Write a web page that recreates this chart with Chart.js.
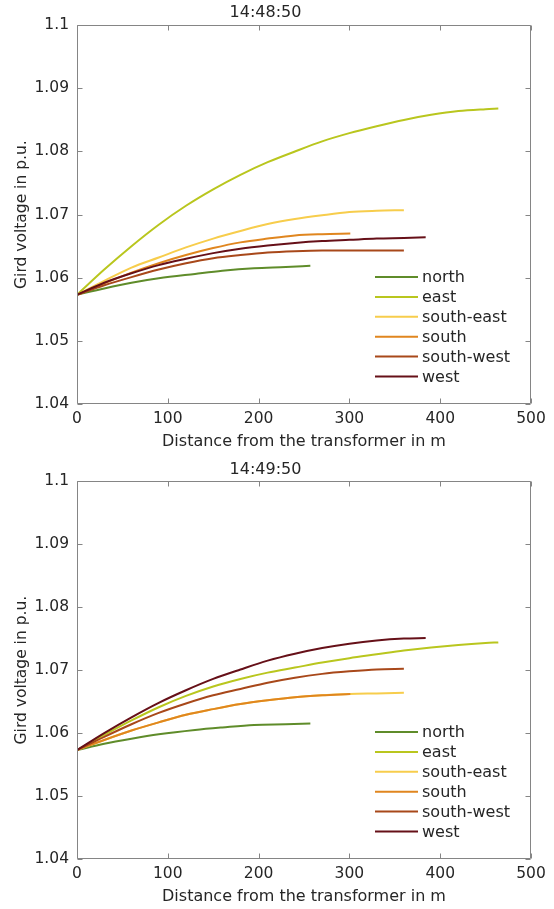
<!DOCTYPE html>
<html>
<head>
<meta charset="utf-8">
<title>Grid voltage</title>
<script src="https://cdn.jsdelivr.net/npm/chart.js@4.4.0/dist/chart.umd.min.js"></script>
<style>
  html, body { margin: 0; padding: 0; background: #fff; }
  .plot { position: relative; width: 554px; }
  #top { height: 454px; }
  #bottom { height: 455px; }
</style>
</head>
<body>
<div class="plot" id="top"><canvas id="chartTop"></canvas></div>
<div class="plot" id="bottom"><canvas id="chartBottom"></canvas></div>
<script>
const seriesNames  = ['north', 'east', 'south-east', 'south', 'south-west', 'west'];
const seriesColors = ['#5f8c2a', '#b9c61e', '#f7cd4c', '#e0861f', '#a8481a', '#661018'];

const xTicks = [0, 100, 200, 300, 400, 500];
const yTicks = [1.04, 1.05, 1.06, 1.07, 1.08, 1.09, 1.1];
const yTickLabels = ['1.04', '1.05', '1.06', '1.07', '1.08', '1.09', '1.1'];

// distance of the nodes along each feeder (m)
const northDist     = [0, 30, 60, 90, 130, 160, 195, 230, 257];
const eastDist      = [0, 30, 60, 90, 120, 150, 180, 210, 240, 270, 300, 330, 360, 390, 420, 450, 464];
const southEastDist = [0, 30, 60, 90, 120, 150, 180, 210, 240, 270, 300, 330, 360];
const southDist     = [0, 30, 60, 90, 120, 150, 180, 210, 240, 270, 301];
const southWestDist = [0, 30, 60, 90, 120, 150, 180, 210, 240, 270, 300, 330, 360];
const westDist      = [0, 30, 60, 90, 120, 150, 180, 210, 240, 270, 300, 330, 360, 384];

// 14:48:50
const north1     = [1.0573, 1.0583, 1.0592, 1.0599, 1.0606, 1.0611, 1.0615, 1.0617, 1.0619];
const east1      = [1.0573, 1.0613, 1.0650, 1.0684, 1.0714, 1.0740, 1.0763, 1.0783, 1.0800, 1.0816, 1.0829, 1.0840, 1.0850, 1.0858, 1.0864, 1.0867, 1.0868];
const southEast1 = [1.0573, 1.0595, 1.0616, 1.0632, 1.0648, 1.0662, 1.0674, 1.0685, 1.0693, 1.0699, 1.0704, 1.0706, 1.0707];
const south1     = [1.0573, 1.0591, 1.0608, 1.0623, 1.0636, 1.0647, 1.0656, 1.0662, 1.0667, 1.0669, 1.0670];
const southWest1 = [1.0573, 1.0588, 1.0601, 1.0613, 1.0623, 1.0631, 1.0636, 1.0640, 1.0642, 1.0643, 1.0643, 1.0643, 1.0643];
const west1      = [1.0573, 1.0592, 1.0607, 1.0620, 1.0630, 1.0639, 1.0646, 1.0651, 1.0655, 1.0658, 1.0660, 1.0662, 1.0663, 1.0664];

// 14:49:50
const north2     = [1.0573, 1.0583, 1.0591, 1.0598, 1.0605, 1.0609, 1.0613, 1.0614, 1.0615];
const east2      = [1.0573, 1.0597, 1.0620, 1.0641, 1.0659, 1.0674, 1.0686, 1.0696, 1.0704, 1.0712, 1.0719, 1.0725, 1.0731, 1.0736, 1.0740, 1.0743, 1.0744];
const southEast2 = [1.0573, 1.0589, 1.0604, 1.0617, 1.0629, 1.0638, 1.0646, 1.0652, 1.0657, 1.0660, 1.0662, 1.0663, 1.0664];
const south2     = [1.0573, 1.0589, 1.0604, 1.0617, 1.0629, 1.0638, 1.0646, 1.0652, 1.0657, 1.0660, 1.0662];
const southWest2 = [1.0573, 1.0594, 1.0614, 1.0632, 1.0647, 1.0660, 1.0670, 1.0680, 1.0688, 1.0694, 1.0698, 1.0701, 1.0702];
const west2      = [1.0573, 1.0600, 1.0625, 1.0648, 1.0668, 1.0686, 1.0701, 1.0715, 1.0726, 1.0735, 1.0742, 1.0747, 1.0750, 1.0751];

const distances = [northDist, eastDist, southEastDist, southDist, southWestDist, westDist];

const FONT = 'DejaVu Sans';
const textColor = '#262626';
const axisColor = '#858585';

// matlab style box with inward ticks + legend inside the axes
const boxPlugin = {
  id: 'matlabBox',
  afterDraw(chart) {
    const { ctx, chartArea: a, scales: { x, y } } = chart;
    const L = Math.round(a.left) + 0.5, R = Math.round(a.right) - 0.5;
    const T = Math.round(a.top) + 0.5, B = Math.round(a.bottom) - 0.5;
    ctx.save();
    ctx.strokeStyle = axisColor;
    ctx.lineWidth = 1;
    ctx.beginPath();
    ctx.rect(L, T, R - L, B - T);
    x.ticks.forEach(t => {
      const px = Math.round(x.getPixelForValue(t.value)) + 0.5;
      ctx.moveTo(px, B); ctx.lineTo(px, B - 5);
      ctx.moveTo(px, T); ctx.lineTo(px, T + 5);
    });
    y.ticks.forEach(t => {
      const py = Math.round(y.getPixelForValue(t.value)) + 0.5;
      ctx.moveTo(L, py); ctx.lineTo(L + 5, py);
      ctx.moveTo(R, py); ctx.lineTo(R - 5, py);
    });
    ctx.stroke();

    // legend
    ctx.font = '16px "' + FONT + '"';
    ctx.textBaseline = 'middle';
    ctx.textAlign = 'left';
    const x0 = a.left + 298;
    let yy = a.bottom - 127;
    chart.data.datasets.forEach(ds => {
      ctx.strokeStyle = ds.borderColor;
      ctx.lineWidth = 2;
      ctx.beginPath();
      ctx.moveTo(x0, yy); ctx.lineTo(x0 + 43, yy);
      ctx.stroke();
      ctx.fillStyle = textColor;
      ctx.fillText(ds.label, x0 + 47, yy + 1);
      yy += 19.9;
    });
    ctx.restore();
  }
};

function makeChart(id, title, voltages, titlePad) {
  const datasets = seriesNames.map((name, i) => ({
    label: name,
    data: distances[i].map((d, k) => ({ x: d, y: voltages[i][k] })),
    borderColor: seriesColors[i],
    backgroundColor: seriesColors[i],
    borderWidth: 2,
    pointRadius: 0,
    showLine: true,
    cubicInterpolationMode: 'monotone',
    order: seriesNames.length - 1 - i
  }));

  return new Chart(document.getElementById(id), {
    type: 'scatter',
    data: { datasets },
    options: {
      responsive: true,
      maintainAspectRatio: false,
      animation: false,
      layout: { padding: { left: 0, right: 23, top: 0, bottom: 0 } },
      plugins: {
        legend: { display: false },
        tooltip: { enabled: false },
        title: {
          display: true,
          text: title,
          color: textColor,
          font: { family: FONT, size: 16, weight: 'normal' },
          padding: titlePad
        }
      },
      scales: {
        x: {
          type: 'linear',
          min: 0, max: 500,
          afterBuildTicks: s => { s.ticks = xTicks.map(v => ({ value: v })); },
          afterFit: s => { s.height = 50; },
          grid: { display: false, drawTicks: false },
          border: { display: false },
          ticks: { color: textColor, padding: 6, maxRotation: 0, font: { family: FONT, size: 15.5 } },
          title: {
            display: true,
            text: 'Distance from the transformer in m',
            color: textColor,
            font: { family: FONT, size: 16 },
            padding: { top: 0, bottom: 3 }
          }
        },
        y: {
          type: 'linear',
          min: 1.04, max: 1.1,
          afterBuildTicks: s => { s.ticks = yTicks.map(v => ({ value: v })); },
          afterFit: s => { s.width = 77; },
          grid: { display: false, drawTicks: false },
          border: { display: false },
          ticks: {
            color: textColor, padding: 8,
            font: { family: FONT, size: 15.5 },
            callback: v => {
              const i = yTicks.findIndex(t => Math.abs(t - v) < 1e-6);
              return i >= 0 ? yTickLabels[i] : '';
            }
          },
          title: {
            display: true,
            text: 'Gird voltage in p.u.',
            color: textColor,
            font: { family: FONT, size: 15.5 },
            padding: { top: 13, bottom: 0 }
          }
        }
      }
    },
    plugins: [boxPlugin]
  });
}

makeChart('chartTop', '14:48:50', [north1, east1, southEast1, south1, southWest1, west1], { top: 3, bottom: 3 });
makeChart('chartBottom', '14:49:50', [north2, east2, southEast2, south2, southWest2, west2], { top: 6, bottom: 2 });
</script>
</body>
</html>
